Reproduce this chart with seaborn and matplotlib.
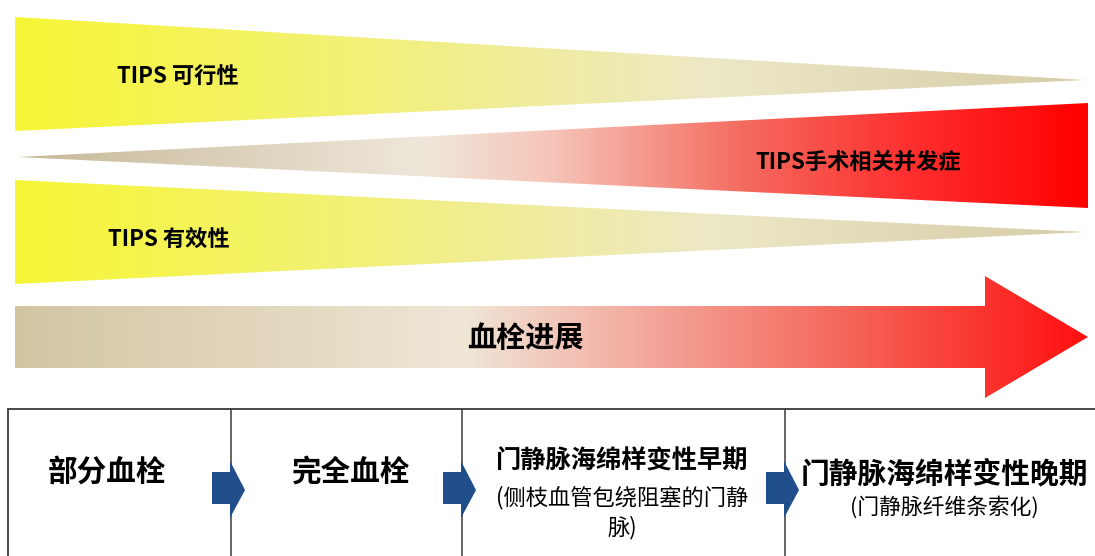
import numpy as np
import matplotlib
matplotlib.use("Agg")
import matplotlib.pyplot as plt
import seaborn as sns
from matplotlib.colors import LinearSegmentedColormap
from matplotlib.patches import Polygon

sns.set_theme(style="white")
plt.rcParams['font.family'] = ['Noto Sans CJK SC', 'DejaVu Sans']
plt.rcParams['text.color'] = 'black'

# ---- content ----
wedge_labels = ["TIPS 可行性", "TIPS手术相关并发症", "TIPS 有效性"]
arrow_label = "血栓进展"
stage_titles = ["部分血栓", "完全血栓", "门静脉海绵样变性早期", "门静脉海绵样变性晚期"]
stage_notes = ["", "", ["(侧枝血管包绕阻塞的门静", "脉)"], ["(门静脉纤维条索化)"]]

# colour stops (position, colour)
yellow_stops = [(0.0, "#f6f636"), (0.35, "#f2f07e"), (0.65, "#ede8c6"), (1.0, "#d6cca8")]
red_stops = [(0.0, "#c6b998"), (0.38, "#efe7da"), (0.5, "#f6c4b8"), (0.68, "#f46a5e"), (0.85, "#ff2a2a"), (1.0, "#ff0000")]
arrow_stops = [(0.0, "#d2c6a2"), (0.42, "#efe6d6"), (0.56, "#f3b2a6"), (0.78, "#f56458"), (1.0, "#ff1010")]

W, H = 1095, 556
fig = plt.figure(figsize=(W / 100, H / 100), dpi=100)
ax = fig.add_axes([0, 0, 1, 1])
ax.set_xlim(0, W)
ax.set_ylim(H, 0)
ax.axis("off")


def gradient_shape(verts, stops, x0, x1):
    cmap = LinearSegmentedColormap.from_list("g", stops)
    grad = np.linspace(0, 1, 512).reshape(1, -1)
    ys = [v[1] for v in verts]
    im = ax.imshow(grad, cmap=cmap, extent=[x0, x1, max(ys), min(ys)],
                   aspect="auto", interpolation="bilinear", zorder=2)
    poly = Polygon(verts, closed=True, facecolor="none", edgecolor="none")
    ax.add_patch(poly)
    im.set_clip_path(poly)


# wedge 1: feasibility (narrowing to the right)
gradient_shape([(15, 17), (1085, 80), (15, 131)], yellow_stops, 15, 1085)
# wedge 2: complications (widening to the right)
gradient_shape([(18, 157), (1088, 103), (1088, 208)], red_stops, 18, 1088)
# wedge 3: effectiveness
gradient_shape([(15, 180), (1085, 232), (15, 284)], yellow_stops, 15, 1085)
# big arrow
gradient_shape([(15, 306), (985, 306), (985, 276), (1088, 337), (985, 398),
                (985, 368), (15, 368)], arrow_stops, 15, 1088)

bw = "heavy"
ax.text(117, 76, wedge_labels[0], fontsize=16, fontweight=bw, va="center", ha="left", zorder=5)
ax.text(755, 162, wedge_labels[1], fontsize=16, fontweight=bw, va="center", ha="left", zorder=5)
ax.text(108, 240, wedge_labels[2], fontsize=16, fontweight=bw, va="center", ha="left", zorder=5)
ax.text(525, 338, arrow_label, fontsize=21, fontweight=bw, va="center", ha="center", zorder=5)

# table
line_c = "#3a3a3a"
ax.plot([8, W], [409, 409], color=line_c, lw=1.3, zorder=3)
ax.plot([8, 8], [409, H], color=line_c, lw=1.3, zorder=3)
dividers = [231, 462, 785]
for xd in dividers:
    ax.plot([xd, xd], [409, H], color=line_c, lw=1.1, zorder=3)

# blue connector arrows
for xd in dividers:
    ax.add_patch(Polygon([(xd - 19, 472), (xd - 1, 472), (xd - 1, 461), (xd + 14, 490),
                          (xd - 1, 518), (xd - 1, 504), (xd - 19, 504)],
                         closed=True, facecolor="#1f4e8a", edgecolor="none", zorder=4))

centers = [107, 350, 622, 944]
ax.text(centers[0], 472, stage_titles[0], fontsize=21.3, fontweight=bw, ha="center", va="center")
ax.text(centers[1], 472, stage_titles[1], fontsize=21.3, fontweight=bw, ha="center", va="center")
ax.text(centers[2], 461, stage_titles[2], fontsize=18.2, fontweight=bw, ha="center", va="center")
ax.text(centers[2], 498, stage_notes[2][0], fontsize=16, ha="center", va="center")
ax.text(centers[2], 528, stage_notes[2][1], fontsize=16, ha="center", va="center")
ax.text(centers[3], 473, stage_titles[3], fontsize=20.7, fontweight=bw, ha="center", va="center")
ax.text(centers[3], 507, stage_notes[3][0], fontsize=15.7, ha="center", va="center")

fig.savefig("out.png", dpi=100, facecolor="white")
